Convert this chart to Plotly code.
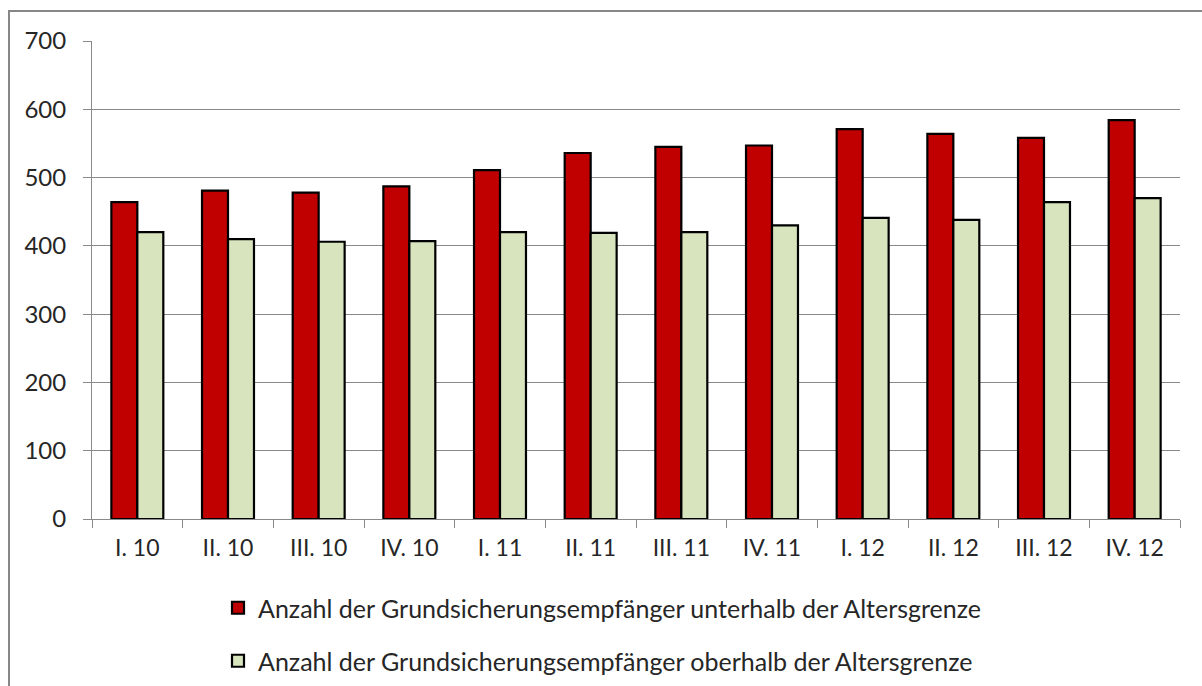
import plotly.graph_objects as go

categories = ["I. 10", "II. 10", "III. 10", "IV. 10", "I. 11", "II. 11",
              "III. 11", "IV. 11", "I. 12", "II. 12", "III. 12", "IV. 12"]
unter = [464, 481, 478, 487, 511, 536, 545, 547, 571, 564, 558, 584]
ober = [420, 410, 406, 407, 420, 419, 420, 430, 441, 438, 464, 470]
y_ticks = [0, 100, 200, 300, 400, 500, 600, 700]
name_unter = "Anzahl der Grundsicherungsempfänger unterhalb der Altersgrenze"
name_ober = "Anzahl der Grundsicherungsempfänger oberhalb der Altersgrenze"

FONT = "Lato"
TXT = "#262626"
GRID = "#898989"

W, H = 1202, 686
L, R, T, B = 92, 22, 41, 167
pw = W - L - R
ph = H - T - B

def px_x(x):
    return (x - L) / pw

def px_y(y):
    return (H - B - y) / ph

fig = go.Figure()
fig.add_trace(go.Bar(x=categories, y=unter, name=name_unter,
                     marker=dict(color="#C00000", line=dict(color="black", width=2.2)),
                     legend="legend"))
fig.add_trace(go.Bar(x=categories, y=ober, name=name_ober,
                     marker=dict(color="#D7E4BD", line=dict(color="black", width=2.2)),
                     legend="legend2"))

legend_common = dict(font=dict(family=FONT, size=25, color=TXT),
                     bgcolor="rgba(0,0,0,0)", xanchor="left", yanchor="middle",
                     itemclick=False, visible=True)

fig.update_layout(
    width=W, height=H,
    margin=dict(l=L, r=R, t=T, b=B, autoexpand=False),
    paper_bgcolor="white", plot_bgcolor="white",
    barmode="group", bargap=0.427, bargroupgap=0,
    showlegend=True,
    font=dict(family=FONT, size=23, color=TXT),
    legend=dict(x=px_x(218), y=px_y(608), **legend_common),
    legend2=dict(x=px_x(218), y=px_y(661), **legend_common),
    xaxis=dict(showline=True, linecolor=GRID, linewidth=1, ticks="outside",
               tickson="boundaries", ticklen=8, tickcolor=GRID, showgrid=False,
               ticklabelstandoff=8,
               tickfont=dict(family=FONT, size=23, color=TXT)),
    yaxis=dict(range=[0, 700], tickvals=y_ticks, showline=True, linecolor=GRID,
               linewidth=1, ticks="outside", ticklen=8, tickcolor=GRID,
               showgrid=True, gridcolor=GRID, gridwidth=1, zeroline=False,
               ticklabelstandoff=12,
               tickfont=dict(family=FONT, size=24, color=TXT)),
    shapes=[dict(type="rect", xref="paper", yref="paper",
                 x0=px_x(9), x1=px_x(1230), y0=px_y(720), y1=px_y(11),
                 line=dict(color="#878787", width=2), fillcolor="rgba(0,0,0,0)",
                 layer="below")],
)

fig.write_html("out.html", config={"displayModeBar": False},
               post_script="document.body.style.margin='0';document.body.style.overflow='hidden';")
